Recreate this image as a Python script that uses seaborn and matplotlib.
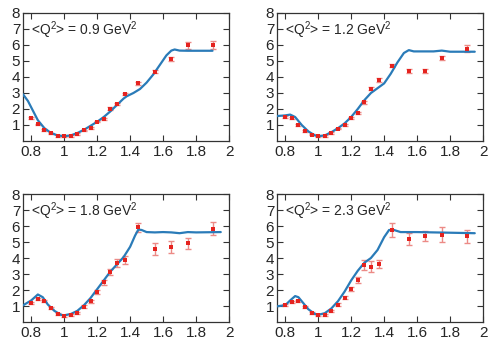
import numpy as np
import pandas as pd
import matplotlib
matplotlib.use("Agg")
import matplotlib.pyplot as plt
import seaborn as sns

# ---- data ----
q2_labels = ["0.9", "1.2", "1.8", "2.3"]

w_pts = [0.80, 0.84, 0.88, 0.92, 0.96, 1.00, 1.04, 1.08, 1.12, 1.16,
         1.20, 1.24, 1.28, 1.32, 1.37, 1.45, 1.55, 1.65, 1.75, 1.90]

y_q09 = [1.44, 1.04, 0.70, 0.47, 0.32, 0.30, 0.32, 0.44, 0.66, 0.80,
         1.21, 1.38, 2.03, 2.31, 2.94, 3.60, 4.32, 5.15, 5.97, 6.00]
e_q09 = [0.05, 0.05, 0.05, 0.05, 0.05, 0.05, 0.05, 0.05, 0.05, 0.05,
         0.05, 0.05, 0.08, 0.08, 0.08, 0.10, 0.10, 0.12, 0.20, 0.22]

y_q12 = [1.50, 1.44, 1.01, 0.63, 0.40, 0.30, 0.32, 0.49, 0.78, 1.01,
         1.44, 1.73, 2.41, 3.26, 3.81, 4.71, 4.40, 4.38, 5.20, 5.77]
e_q12 = [0.05, 0.05, 0.05, 0.05, 0.05, 0.05, 0.05, 0.05, 0.05, 0.05,
         0.06, 0.06, 0.08, 0.10, 0.10, 0.10, 0.12, 0.12, 0.12, 0.22]

y_q18 = [1.21, 1.46, 1.29, 0.88, 0.52, 0.40, 0.42, 0.58, 0.96, 1.29,
         1.88, 2.48, 3.13, 3.67, 3.85, 5.92, 4.56, 4.69, 4.92, 5.83]
e_q18 = [0.06, 0.06, 0.06, 0.06, 0.06, 0.06, 0.06, 0.06, 0.08, 0.10,
         0.12, 0.15, 0.20, 0.25, 0.25, 0.28, 0.35, 0.35, 0.35, 0.40]

y_q23 = [1.08, 1.23, 1.31, 0.94, 0.58, 0.42, 0.46, 0.69, 1.08, 1.52,
         2.06, 2.63, 3.58, 3.46, 3.65, 5.75, 5.19, 5.38, 5.46, 5.35]
e_q23 = [0.06, 0.06, 0.06, 0.06, 0.06, 0.06, 0.06, 0.06, 0.08, 0.10,
         0.12, 0.20, 0.30, 0.35, 0.25, 0.45, 0.35, 0.30, 0.45, 0.40]

w_q09_line = [0.75, 0.78, 0.80, 0.84, 0.88, 0.92, 0.96, 1.00, 1.04, 1.08, 1.12,
              1.16, 1.20, 1.24, 1.28, 1.32, 1.36, 1.38, 1.42, 1.46, 1.50,
              1.54, 1.58, 1.62, 1.65, 1.67, 1.70, 1.75, 1.80, 1.90]
f_q09_line = [2.92, 2.50, 2.10, 1.30, 0.80, 0.50, 0.35, 0.30, 0.35, 0.50, 0.70,
              0.95, 1.20, 1.50, 1.85, 2.25, 2.65, 2.80, 3.00, 3.25, 3.65,
              4.15, 4.75, 5.35, 5.65, 5.72, 5.65, 5.64, 5.64, 5.64]

w_q12_line = [0.75, 0.80, 0.83, 0.86, 0.90, 0.94, 0.98, 1.00, 1.04, 1.08, 1.12,
              1.16, 1.20, 1.24, 1.28, 1.32, 1.36, 1.40, 1.44, 1.48, 1.52,
              1.55, 1.58, 1.62, 1.70, 1.75, 1.80, 1.95]
f_q12_line = [1.56, 1.60, 1.65, 1.50, 1.00, 0.60, 0.35, 0.30, 0.35, 0.55, 0.80,
              1.10, 1.50, 2.00, 2.55, 3.00, 3.30, 3.60, 4.20, 4.90, 5.50,
              5.68, 5.60, 5.60, 5.60, 5.65, 5.58, 5.58]

w_q18_line = [0.75, 0.80, 0.84, 0.87, 0.90, 0.94, 0.98, 1.00, 1.04, 1.08, 1.12,
              1.16, 1.20, 1.24, 1.28, 1.32, 1.36, 1.40, 1.43, 1.45, 1.47,
              1.50, 1.55, 1.60, 1.65, 1.70, 1.75, 1.80, 1.95]
f_q18_line = [1.04, 1.35, 1.72, 1.55, 1.10, 0.70, 0.45, 0.42, 0.50, 0.70, 1.05,
              1.50, 2.05, 2.60, 3.15, 3.60, 4.05, 4.70, 5.40, 5.78, 5.75,
              5.62, 5.60, 5.62, 5.60, 5.55, 5.62, 5.60, 5.62]

w_q23_line = [0.75, 0.80, 0.83, 0.86, 0.88, 0.90, 0.94, 0.98, 1.00, 1.04, 1.08,
              1.12, 1.16, 1.20, 1.24, 1.28, 1.32, 1.36, 1.40, 1.43, 1.46,
              1.50, 1.60, 1.70, 1.80, 1.95]
f_q23_line = [0.98, 1.05, 1.35, 1.62, 1.55, 1.30, 0.80, 0.50, 0.45, 0.55, 0.85,
              1.30, 1.90, 2.60, 3.20, 3.70, 4.00, 4.50, 5.30, 5.75, 5.75,
              5.62, 5.62, 5.60, 5.58, 5.55]

panels = [
    (q2_labels[0], y_q09, e_q09, w_q09_line, f_q09_line),
    (q2_labels[1], y_q12, e_q12, w_q12_line, f_q12_line),
    (q2_labels[2], y_q18, e_q18, w_q18_line, f_q18_line),
    (q2_labels[3], y_q23, e_q23, w_q23_line, f_q23_line),
]

# ---- style ----
sns.set_style("ticks")
plt.rcParams["font.family"] = ["Liberation Sans", "DejaVu Sans"]
plt.rcParams["mathtext.fontset"] = "custom"
plt.rcParams["mathtext.rm"] = "Liberation Sans"
plt.rcParams["mathtext.it"] = "Liberation Sans"
plt.rcParams["xtick.direction"] = "in"
plt.rcParams["ytick.direction"] = "in"

LINE_C = "#2a7bb8"
PT_C = "#e5231f"
ERR_C = "#ec8a86"

fig = plt.figure(figsize=(4.91, 3.41), dpi=100)
W, H = 491, 341
lefts = [23, 277]
tops = [13, 194]
pw, ph = 206, 128

for i, (lab, yv, ev, wl, fl) in enumerate(panels):
    r, c = divmod(i, 2)
    left = lefts[c] / W
    bottom = (H - tops[r] - ph) / H
    ax = fig.add_axes([left, bottom, pw / W, ph / H])

    ax.errorbar(w_pts, yv, yerr=ev, fmt="none", ecolor=ERR_C,
                elinewidth=1.0, capsize=2.0, capthick=1.0, zorder=2)
    sns.lineplot(x=wl, y=fl, ax=ax, color=LINE_C, lw=1.6, zorder=3)
    sns.scatterplot(x=w_pts, y=yv, ax=ax, color=PT_C, marker="s", s=9,
                    linewidth=0, zorder=4)

    ax.set_xlim(0.75, 2.0)
    ax.set_ylim(0, 8)
    ax.set_xticks([0.8, 1.0, 1.2, 1.4, 1.6, 1.8, 2.0])
    ax.set_xticklabels(["0.8", "1", "1.2", "1.4", "1.6", "1.8", "2"])
    ax.set_yticks([1, 2, 3, 4, 5, 6, 7, 8])
    ax.set_yticklabels([str(v) for v in range(1, 9)])
    ax.tick_params(axis="both", which="both", top=True, right=True,
                   length=4, width=0.8, labelsize=11, pad=3, color="#333333")
    ax.tick_params(axis="y", pad=2)
    for s in ax.spines.values():
        s.set_linewidth(0.9)
        s.set_color("#333333")
    ax.text(0.80, 6.95, r"<Q$^2$> = " + lab + r" GeV$^2$", fontsize=10,
            va="center", ha="left")

fig.savefig("out.png", dpi=100)
